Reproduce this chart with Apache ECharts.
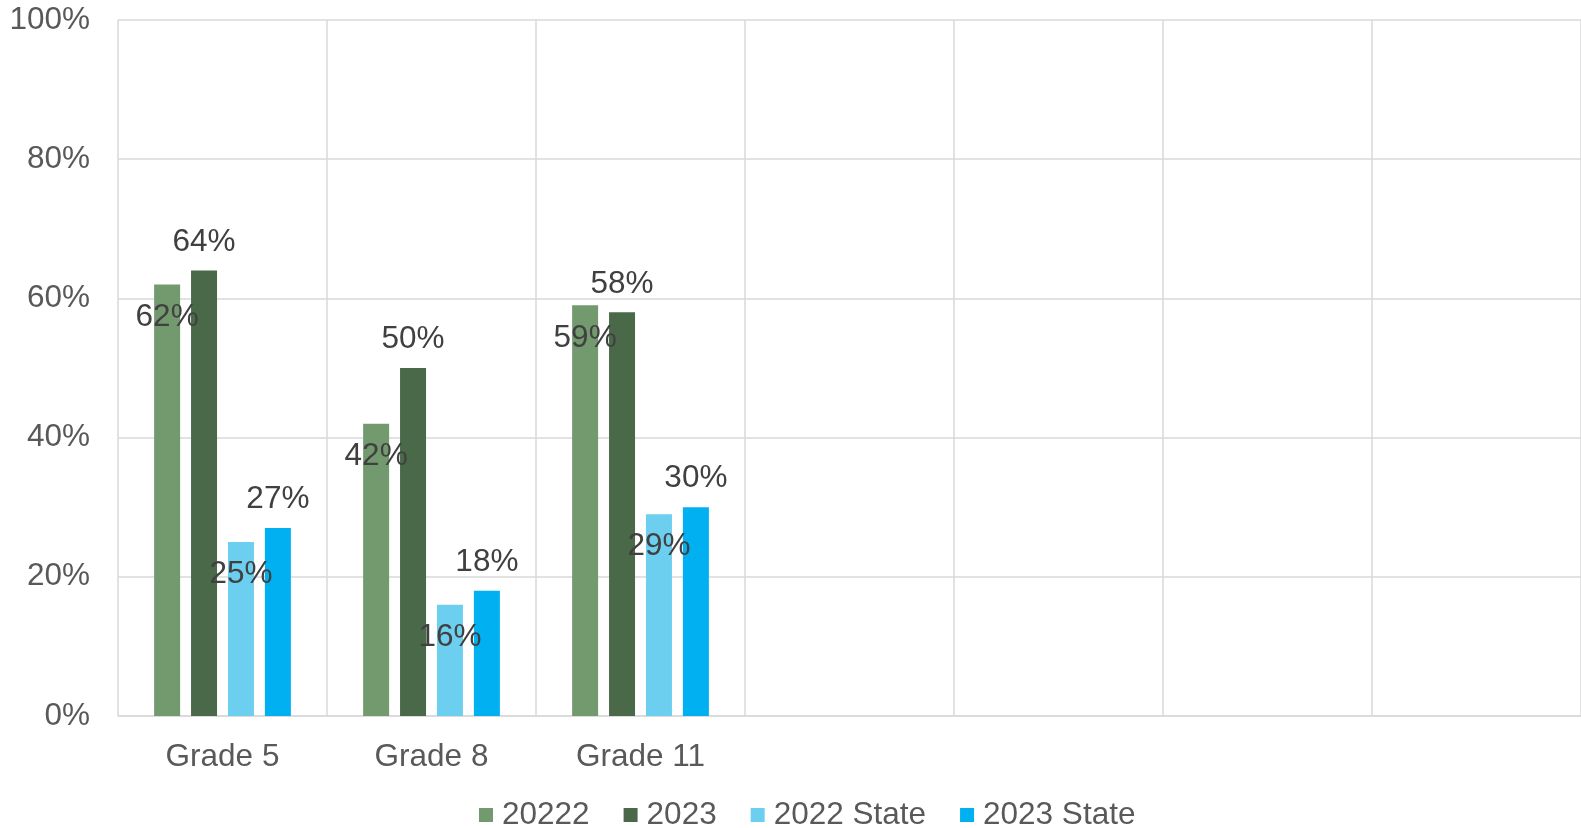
<!DOCTYPE html>
<html>
<head>
<meta charset="utf-8">
<script src="https://cdn.jsdelivr.net/npm/echarts@6/dist/echarts.min.js"></script>
<style>
html,body{margin:0;padding:0;background:#fff;}
#chart{width:1581px;height:828px;}
</style>
</head>
<body>
<div id="chart"></div>
<script>
const categories = ['Grade 5', 'Grade 8', 'Grade 11', '', '', '', ''];
const seriesNames = ['20222', '2023', '2022 State', '2023 State'];
const v2022 = [62, 42, 59];
const v2023 = [64, 50, 58];
const v2022State = [25, 16, 29];
const v2023State = [27, 18, 30];
const yTicks = [0, 20, 40, 60, 80, 100];

const colors = ['#739A6F', '#4A6949', '#6DCFF0', '#00B0F0'];
const FONT = '"Liberation Sans", Arial, sans-serif';
const FS = 31.5;

function mk(name, data, color, inside) {
  return {
    name: name,
    type: 'bar',
    data: data,
    barWidth: 26,
    barGap: '42%',
    itemStyle: { color: color },
    label: {
      show: true,
      position: inside ? 'insideTop' : 'top',
      distance: inside ? 16.5 : 12.5,
      formatter: p => p.value + '%',
      color: '#404040',
      fontSize: FS,
      fontFamily: FONT
    }
  };
}

const chart = echarts.init(document.getElementById('chart'), null, { renderer: 'canvas' });
chart.setOption({
  animation: false,
  backgroundColor: '#fff',
  grid: { left: 118, top: 20, right: 0, bottom: 112, containLabel: false },
  legend: {
    data: seriesNames,
    left: 474,
    top: 794,
    itemWidth: 14,
    itemHeight: 14,
    itemGap: 34,
    icon: 'rect',
    textStyle: { color: '#595959', fontSize: FS, fontFamily: FONT, padding: [0, 0, 0, 4] }
  },
  xAxis: {
    type: 'category',
    data: categories,
    boundaryGap: true,
    axisLine: { show: true, lineStyle: { color: '#d9d9d9', width: 1.5 } },
    axisTick: { show: false },
    splitLine: { show: true, lineStyle: { color: '#d9d9d9', width: 1.5 } },
    axisLabel: { color: '#595959', fontSize: FS, fontFamily: FONT, margin: 25, interval: 0 }
  },
  yAxis: {
    type: 'value',
    min: yTicks[0],
    max: yTicks[yTicks.length - 1],
    interval: 20,
    axisLine: { show: false },
    axisTick: { show: false },
    splitLine: { show: true, lineStyle: { color: '#d9d9d9', width: 1.5 } },
    axisLabel: { color: '#595959', fontSize: FS, fontFamily: FONT, margin: 28, formatter: v => v + '%' }
  },
  series: [
    mk(seriesNames[0], v2022, colors[0], true),
    mk(seriesNames[1], v2023, colors[1], false),
    mk(seriesNames[2], v2022State, colors[2], true),
    mk(seriesNames[3], v2023State, colors[3], false)
  ]
});
</script>
</body>
</html>
